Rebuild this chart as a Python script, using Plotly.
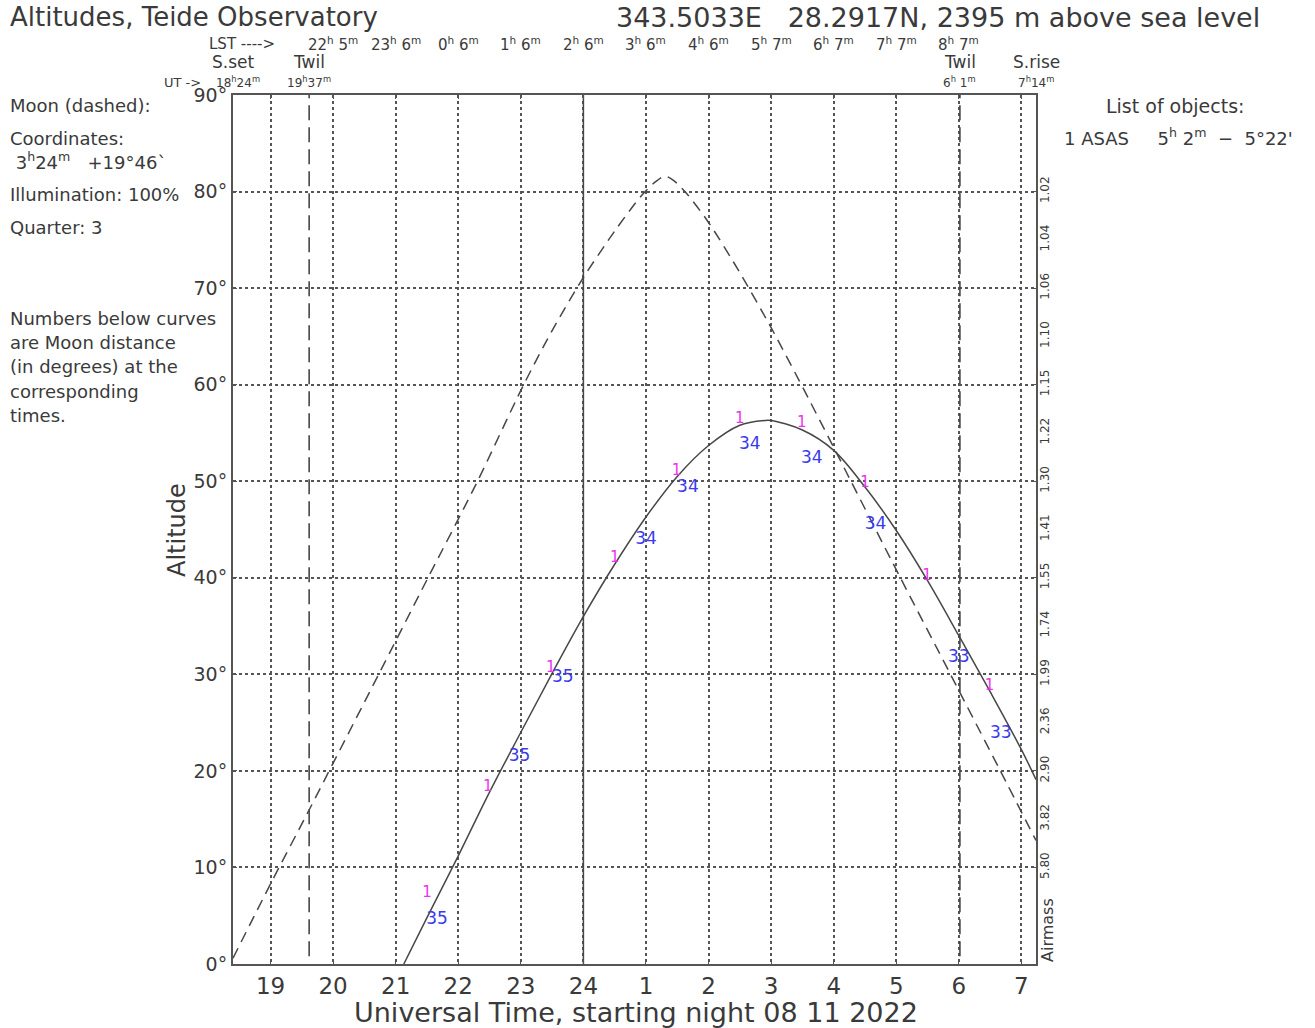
import plotly.graph_objects as go

# ---------------- data ----------------
# Object (1 ASAS) altitude curve, UT hours (continuous, >24 = next morning), degrees
obj_t = [21.13, 21.5, 22.0, 22.5, 23.0, 23.5, 24.0, 24.5, 25.0, 25.5, 26.0, 26.5,
         26.92, 27.0, 27.5, 28.0, 28.5, 29.0, 29.5, 30.0, 30.5, 31.0, 31.233]
obj_alt = [0.0, 4.8, 11.2, 17.8, 24.0, 30.1, 36.0, 41.4, 46.3, 50.5, 53.7, 55.8,
           56.3, 56.3, 55.3, 53.2, 49.4, 44.9, 39.7, 34.0, 28.2, 22.2, 19.1]

# Moon altitude curve (dashed)
moon_t = [18.40, 19.00, 19.62, 20.00, 20.72, 21.50, 22.30, 23.03, 23.50, 24.00,
          24.50, 24.93, 25.15, 25.30, 25.45, 25.65, 26.00, 26.50, 27.00, 27.45,
          28.00, 28.26, 29.05, 29.85, 30.64, 31.233]
moon_alt = [0.6, 8.3, 16.0, 20.8, 29.9, 39.8, 49.9, 59.8, 65.6, 71.1,
            75.9, 79.6, 81.0, 81.6, 81.1, 79.8, 76.8, 71.6, 65.9, 60.4,
            53.5, 50.2, 40.2, 30.2, 20.3, 12.8]

sunset, sunrise = 18.40, 31.233
twilight_times = [19.617, 30.017]
twilight_names = ["Twil", "Twil"]
twilight_ut = ["19<sup>h</sup>37<sup>m</sup>", "6<sup>h</sup> 1<sup>m</sup>"]
midnight = 24.0

ut_ticks = [19, 20, 21, 22, 23, 24, 25, 26, 27, 28, 29, 30, 31]
ut_labels = ["19", "20", "21", "22", "23", "24", "1", "2", "3", "4", "5", "6", "7"]

lst_ticks = [20, 21, 22, 23, 24, 25, 26, 27, 28, 29, 30]
lst_labels = ["22<sup>h</sup> 5<sup>m</sup>", "23<sup>h</sup> 6<sup>m</sup>", "0<sup>h</sup> 6<sup>m</sup>",
              "1<sup>h</sup> 6<sup>m</sup>", "2<sup>h</sup> 6<sup>m</sup>", "3<sup>h</sup> 6<sup>m</sup>",
              "4<sup>h</sup> 6<sup>m</sup>", "5<sup>h</sup> 7<sup>m</sup>", "6<sup>h</sup> 7<sup>m</sup>",
              "7<sup>h</sup> 7<sup>m</sup>", "8<sup>h</sup> 7<sup>m</sup>"]

alt_ticks = [0, 10, 20, 30, 40, 50, 60, 70, 80, 90]
alt_labels = [f"{v}°" for v in alt_ticks]

airmass_alts = [80, 75, 70, 65, 60, 55, 50, 45, 40, 35, 30, 25, 20, 15, 10]
airmass_labels = ["1.02", "1.04", "1.06", "1.10", "1.15", "1.22", "1.30", "1.41",
                  "1.55", "1.74", "1.99", "2.36", "2.90", "3.82", "5.80"]

# Object marker "1" labels and moon-distance labels
one_t = [21.50, 22.47, 23.48, 24.50, 25.49, 26.50, 27.49, 28.50, 29.49, 30.49]
one_alt = [7.3, 18.3, 30.6, 42.0, 51.0, 56.4, 56.0, 49.8, 40.2, 28.8]
dist_t = [21.66, 22.98, 23.67, 25.00, 25.67, 26.66, 27.65, 28.67, 30.00, 30.67]
dist_alt = [4.6, 21.5, 29.6, 43.9, 49.3, 53.8, 52.3, 45.5, 31.7, 23.8]
dist_vals = ["35", "35", "35", "34", "34", "34", "34", "34", "33", "33"]

# ---------------- figure ----------------
FONT = "DejaVu Sans, Liberation Sans, sans-serif"
INK = "#3a3a3a"
LINE = "#474747"
NB = "\u00a0"

fig = go.Figure()

# vertical markers
for tt in twilight_times:
    fig.add_trace(go.Scatter(x=[tt, tt], y=[0.8, 90], mode="lines",
                             line=dict(color=LINE, width=1.6, dash="15px,7px"),
                             hoverinfo="skip", showlegend=False))
fig.add_trace(go.Scatter(x=[midnight, midnight], y=[0, 90], mode="lines",
                         line=dict(color=LINE, width=1.5), hoverinfo="skip", showlegend=False))

# moon
fig.add_trace(go.Scatter(x=moon_t, y=moon_alt, mode="lines", line_shape="spline",
                         line=dict(color=LINE, width=1.5, dash="11px,7px", smoothing=0.8),
                         name="Moon", showlegend=False))
# object
fig.add_trace(go.Scatter(x=obj_t, y=obj_alt, mode="lines", line_shape="spline",
                         line=dict(color=LINE, width=1.5), name="1 ASAS", showlegend=False))

# "1" labels
fig.add_trace(go.Scatter(x=one_t, y=one_alt, mode="text", text=["1"] * len(one_t),
                         textfont=dict(family=FONT, size=15, color="#ee33ee"),
                         hoverinfo="skip", showlegend=False))
# distance labels
fig.add_trace(go.Scatter(x=dist_t, y=dist_alt, mode="text", text=dist_vals,
                         textfont=dict(family=FONT, size=17, color="#3a3aee"),
                         hoverinfo="skip", showlegend=False))
# dummy trace for airmass axis
fig.add_trace(go.Scatter(x=[sunset], y=[0], yaxis="y2", mode="markers",
                         marker=dict(opacity=0), hoverinfo="skip", showlegend=False))

# full-window figure (page body margin removed below)
W, H = 1315, 1028
L, T = 233, 95
PW, PH = 803, 869
R, B = W - L - PW, H - T - PH


def px(xp):
    return (xp - L) / PW


def py(yp):
    return (T + PH - yp) / PH


ann = []


def add(text, x, y, size, xanchor="left", xref="paper", color=INK, angle=0, xshift=0):
    ann.append(dict(text=text, x=x, y=y, xref=xref, yref="paper", showarrow=False,
                    xanchor=xanchor, yanchor="middle", textangle=angle, xshift=xshift,
                    font=dict(family=FONT, size=size, color=color)))


add("Altitudes, Teide Observatory", px(8), py(17), 26)
add("343.5033E" + NB * 3 + "28.2917N, 2395 m above sea level", px(1262), py(17), 27,
    xanchor="right")
add("LST ---->", px(277), py(44), 15, xanchor="right")
for t, lab in zip(lst_ticks, lst_labels):
    add(lab, t, py(44), 15, xanchor="center", xref="x")
add("S.set", sunset, py(62), 17, xanchor="center", xref="x")
add("18<sup>h</sup>24<sup>m</sup>", sunset, py(82), 12, xanchor="center", xref="x", xshift=5)
add("UT ->", px(203), py(82), 13, xanchor="right")
add("S.rise", sunrise, py(62), 17, xanchor="center", xref="x")
add("7<sup>h</sup>14<sup>m</sup>", sunrise, py(82), 12, xanchor="center", xref="x")
for tt, nm, ut in zip(twilight_times, twilight_names, twilight_ut):
    add(nm, tt, py(62), 17, xanchor="center", xref="x")
    add(ut, tt, py(82), 12, xanchor="center", xref="x")

left_lines = [("Moon (dashed):", 106), ("Coordinates:", 138),
              (NB + "3<sup>h</sup>24<sup>m</sup>" + NB * 3 + "+19°46`", 161),
              ("Illumination: 100%", 194), ("Quarter: 3", 228),
              ("Numbers below curves", 318), ("are Moon distance", 342),
              ("(in degrees) at the", 367), ("corresponding", 391), ("times.", 416)]
for txt, yy in left_lines:
    add(txt, px(8), py(yy), 18)

add("List of objects:", px(1175), py(106), 19, xanchor="center")
add("1 ASAS" + NB * 5 + "5<sup>h</sup> 2<sup>m</sup>" + NB * 2 + "−" + NB * 2 + "5°22'",
    px(1062), py(137), 18)
add("Airmass", px(1047), py(930), 16, xanchor="center", angle=-90)
add("Universal Time, starting night 08 11 2022", px(636), py(1012), 27, xanchor="center")
add("Altitude", px(177), py(530), 24, xanchor="center", angle=-90)

fig.update_layout(
    width=W, height=H,
    margin=dict(l=L, r=R, t=T, b=B, autoexpand=False),
    paper_bgcolor="white", plot_bgcolor="white",
    font=dict(family=FONT, color=INK),
    showlegend=False,
    annotations=ann,
    xaxis=dict(range=[sunset, sunrise], tickvals=ut_ticks, ticktext=ut_labels,
               tickfont=dict(size=23), showgrid=True, gridcolor="#555",
               griddash="dot", gridwidth=1.5, showline=True, linecolor="#555",
               linewidth=2, mirror="ticks", ticks="inside", ticklen=4, tickcolor="#555",
               zeroline=False, automargin=False),
    yaxis=dict(range=[0, 90], tickvals=alt_ticks, ticktext=alt_labels,
               tickfont=dict(size=19), showgrid=True, gridcolor="#555",
               griddash="dot", gridwidth=1.5, showline=True, linecolor="#555",
               linewidth=2, mirror="ticks", ticks="inside", ticklen=4, tickcolor="#555",
               zeroline=False, automargin=False),
    yaxis2=dict(range=[0, 90], overlaying="y", side="right", tickvals=airmass_alts,
                ticktext=airmass_labels, tickangle=-90, tickfont=dict(size=12),
                showgrid=False, zeroline=False, ticks="", showline=False, automargin=False),
)

fig.write_html("out.html",
               config={"displayModeBar": False},
               post_script="document.body.style.margin='0px';"
                           "document.documentElement.style.overflow='hidden';")
